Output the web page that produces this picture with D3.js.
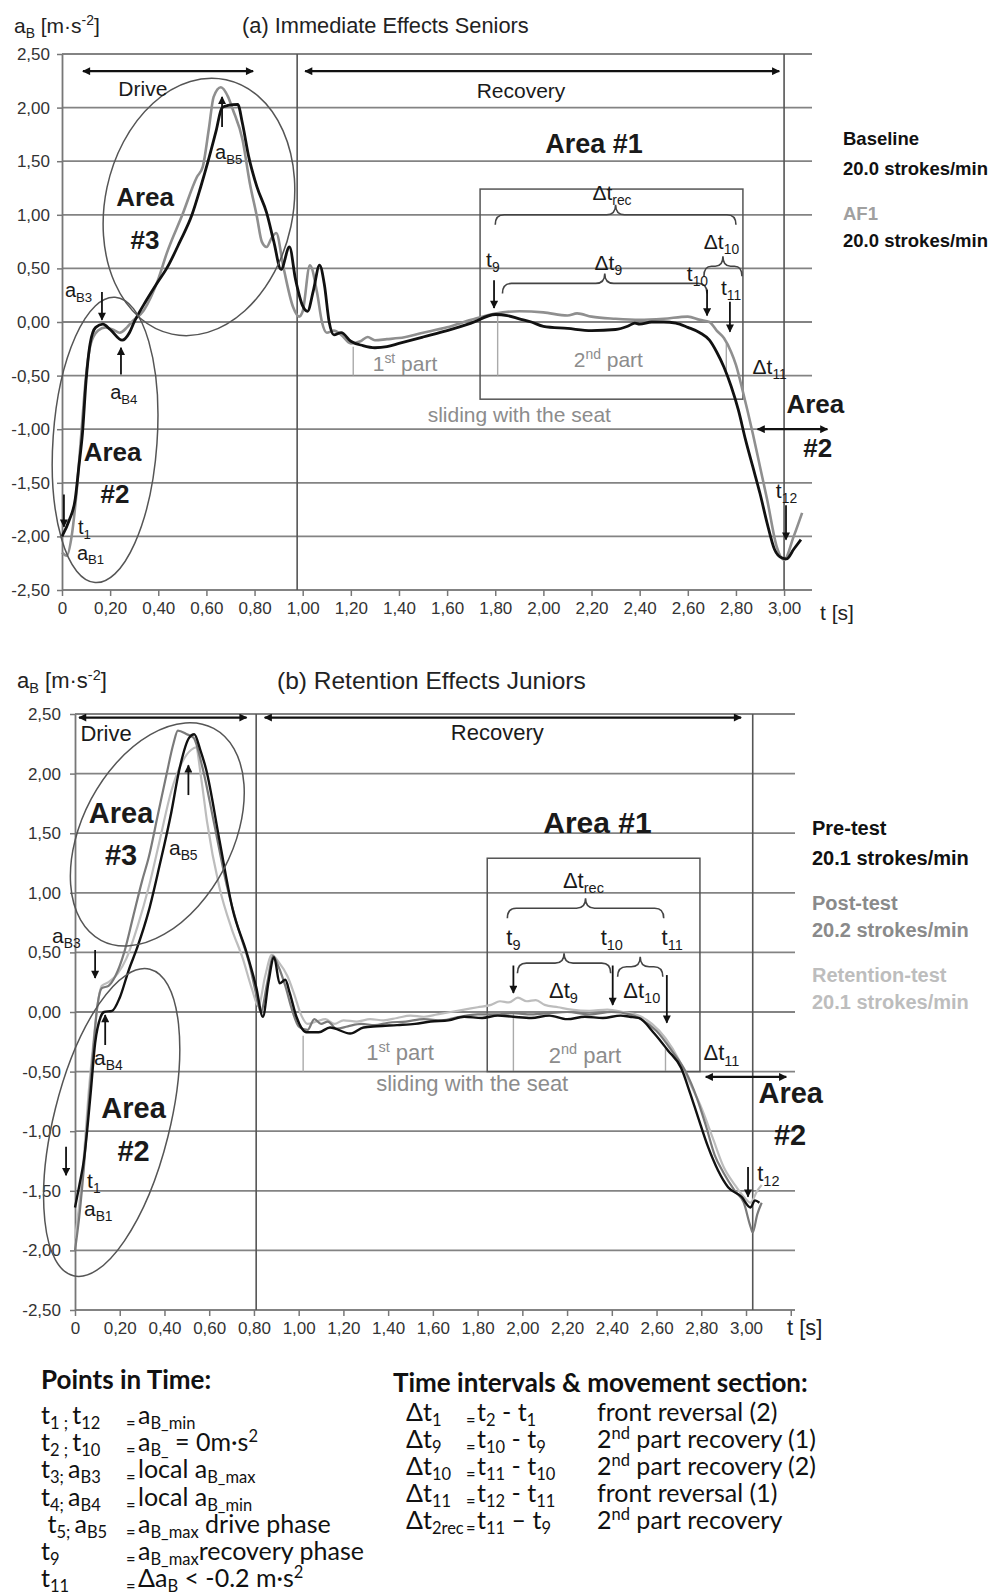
<!DOCTYPE html>
<html>
<head>
<meta charset="utf-8">
<script src="https://cdn.jsdelivr.net/npm/d3@7"></script>
<style>
  body { margin: 0; background: #fff; }
  svg { display: block; }
</style>
</head>
<body>
<script>
// ---- data ----
const xTicks = [0, 0.2, 0.4, 0.6, 0.8, 1.0, 1.2, 1.4, 1.6, 1.8, 2.0, 2.2, 2.4, 2.6, 2.8, 3.0];
const xTicksB = [0, 0.2, 0.4, 0.6, 0.8, 1.0, 1.2, 1.4, 1.6, 1.8, 2.0, 2.2, 2.4, 2.6, 2.8, 3.0, 3.2];
const yTicks = [2.5, 2.0, 1.5, 1.0, 0.5, 0, -0.5, -1.0, -1.5, -2.0, -2.5];

// (a) Immediate Effects Seniors  [t (s), aB (m/s2)]
const baselineA = [[0,-2.0],[0.03,-1.85],[0.055,-1.65],[0.07,-1.35],[0.085,-1.04],[0.1,-0.55],[0.117,-0.2],[0.14,-0.05],[0.17,-0.02],[0.2,-0.07],[0.25,-0.17],[0.28,-0.1],[0.3,0.0],[0.35,0.2],[0.4,0.38],[0.435,0.5],[0.49,0.75],[0.54,1.0],[0.575,1.25],[0.607,1.5],[0.64,1.78],[0.665,2.0],[0.69,2.02],[0.73,2.03],[0.75,1.85],[0.775,1.55],[0.81,1.26],[0.85,1.02],[0.88,0.75],[0.91,0.49],[0.945,0.7],[0.97,0.4],[1.0,0.15],[1.02,0.1],[1.045,0.3],[1.07,0.53],[1.09,0.35],[1.11,0.0],[1.13,-0.12],[1.16,-0.1],[1.2,-0.18],[1.25,-0.22],[1.3,-0.24],[1.35,-0.23],[1.4,-0.2],[1.5,-0.14],[1.6,-0.08],[1.7,-0.01],[1.8,0.07],[1.85,0.06],[1.9,0.03],[1.95,0.0],[2.0,-0.04],[2.1,-0.06],[2.2,-0.08],[2.3,-0.07],[2.35,-0.04],[2.38,-0.01],[2.4,-0.02],[2.45,0.0],[2.5,0.0],[2.55,-0.01],[2.6,-0.05],[2.65,-0.1],[2.69,-0.17],[2.72,-0.28],[2.75,-0.42],[2.78,-0.6],[2.81,-0.82],[2.84,-1.1],[2.87,-1.35],[2.9,-1.6],[2.93,-1.88],[2.96,-2.12],[2.99,-2.2],[3.01,-2.21],[3.04,-2.12],[3.07,-2.03]];
const af1A = [[0,-2.15],[0.02,-2.18],[0.04,-2.0],[0.06,-1.6],[0.08,-1.05],[0.1,-0.5],[0.12,-0.2],[0.15,-0.08],[0.18,-0.05],[0.21,-0.07],[0.24,-0.1],[0.27,-0.05],[0.29,0.0],[0.34,0.11],[0.4,0.4],[0.435,0.64],[0.5,1.0],[0.56,1.35],[0.585,1.45],[0.61,1.8],[0.63,2.1],[0.66,2.19],[0.69,2.1],[0.71,1.98],[0.75,1.7],[0.78,1.3],[0.81,0.98],[0.83,0.75],[0.85,0.7],[0.87,0.78],[0.89,0.83],[0.92,0.51],[0.96,0.14],[0.985,0.05],[1.0,0.1],[1.03,0.53],[1.06,0.27],[1.08,0.0],[1.1,-0.1],[1.13,-0.08],[1.16,-0.12],[1.2,-0.2],[1.24,-0.18],[1.27,-0.14],[1.3,-0.17],[1.35,-0.16],[1.4,-0.15],[1.5,-0.1],[1.6,-0.05],[1.7,0.02],[1.8,0.08],[1.9,0.1],[2.0,0.09],[2.1,0.06],[2.14,0.08],[2.2,0.05],[2.3,0.03],[2.4,0.02],[2.5,0.03],[2.6,0.05],[2.65,0.02],[2.69,0.0],[2.72,-0.08],[2.75,-0.15],[2.78,-0.28],[2.8,-0.4],[2.83,-0.66],[2.87,-1.04],[2.9,-1.35],[2.93,-1.66],[2.97,-2.1],[3.0,-2.22],[3.04,-2.0],[3.075,-1.78]];

// (b) Retention Effects Juniors
const preB = [[0,-1.64],[0.02,-1.45],[0.04,-1.24],[0.07,-0.68],[0.09,-0.26],[0.115,-0.04],[0.13,0.0],[0.166,0.01],[0.2,0.12],[0.24,0.35],[0.28,0.55],[0.33,0.85],[0.377,1.22],[0.43,1.67],[0.466,2.03],[0.51,2.3],[0.533,2.33],[0.56,2.2],[0.587,2.03],[0.645,1.45],[0.705,0.86],[0.767,0.5],[0.81,0.21],[0.84,-0.04],[0.865,0.25],[0.89,0.46],[0.915,0.24],[0.94,0.27],[0.96,0.16],[0.99,-0.04],[1.035,-0.17],[1.09,-0.17],[1.14,-0.13],[1.23,-0.18],[1.29,-0.13],[1.35,-0.12],[1.44,-0.11],[1.52,-0.1],[1.59,-0.08],[1.67,-0.07],[1.74,-0.04],[1.82,-0.05],[1.89,-0.03],[1.96,-0.04],[2.04,-0.05],[2.12,-0.03],[2.2,-0.06],[2.28,-0.04],[2.36,-0.05],[2.44,-0.03],[2.48,-0.04],[2.52,-0.05],[2.59,-0.18],[2.65,-0.32],[2.71,-0.47],[2.75,-0.68],[2.785,-0.88],[2.83,-1.13],[2.875,-1.33],[2.92,-1.47],[2.98,-1.55],[3.02,-1.64],[3.04,-1.58],[3.06,-1.6]];
const postB = [[0,-2.0],[0.02,-1.7],[0.04,-1.3],[0.06,-0.8],[0.08,-0.35],[0.1,0.05],[0.12,0.2],[0.15,0.22],[0.18,0.3],[0.22,0.5],[0.26,0.8],[0.3,1.1],[0.33,1.3],[0.37,1.65],[0.41,2.0],[0.44,2.25],[0.46,2.36],[0.5,2.33],[0.53,2.3],[0.57,2.05],[0.62,1.6],[0.68,1.05],[0.73,0.7],[0.78,0.4],[0.81,0.15],[0.83,0.0],[0.86,0.25],[0.885,0.47],[0.91,0.38],[0.94,0.22],[0.97,0.02],[1.0,-0.12],[1.04,-0.15],[1.07,-0.06],[1.1,-0.1],[1.13,-0.08],[1.17,-0.14],[1.22,-0.12],[1.28,-0.1],[1.34,-0.11],[1.4,-0.09],[1.48,-0.08],[1.56,-0.06],[1.64,-0.07],[1.72,-0.04],[1.8,-0.02],[1.88,-0.02],[1.96,-0.01],[2.04,-0.02],[2.12,-0.01],[2.2,0.0],[2.3,-0.02],[2.4,0.0],[2.48,-0.02],[2.53,-0.06],[2.6,-0.16],[2.67,-0.33],[2.73,-0.5],[2.78,-0.72],[2.82,-0.95],[2.86,-1.2],[2.9,-1.35],[2.95,-1.5],[2.99,-1.6],[3.02,-1.8],[3.03,-1.85],[3.05,-1.7],[3.07,-1.6]];
const retentionB = [[0,-1.9],[0.02,-1.6],[0.04,-1.2],[0.06,-0.7],[0.08,-0.3],[0.1,0.05],[0.12,0.22],[0.15,0.25],[0.19,0.32],[0.23,0.45],[0.28,0.72],[0.33,1.05],[0.38,1.45],[0.43,1.85],[0.48,2.1],[0.52,2.2],[0.54,2.22],[0.565,1.95],[0.59,1.6],[0.645,1.05],[0.7,0.7],[0.75,0.45],[0.79,0.2],[0.82,0.05],[0.85,0.3],[0.88,0.48],[0.91,0.42],[0.95,0.3],[0.98,0.15],[1.01,-0.02],[1.04,-0.1],[1.08,-0.08],[1.12,-0.06],[1.16,-0.1],[1.2,-0.07],[1.26,-0.08],[1.32,-0.06],[1.38,-0.07],[1.44,-0.05],[1.5,-0.03],[1.56,-0.04],[1.62,-0.02],[1.68,0.0],[1.74,0.02],[1.8,0.04],[1.86,0.06],[1.9,0.09],[1.94,0.08],[1.98,0.12],[2.02,0.09],[2.06,0.1],[2.1,0.06],[2.16,0.04],[2.22,0.02],[2.3,0.01],[2.38,0.02],[2.45,0.0],[2.52,-0.03],[2.58,-0.1],[2.64,-0.22],[2.7,-0.4],[2.75,-0.6],[2.8,-0.8],[2.85,-1.05],[2.9,-1.3],[2.95,-1.45],[2.99,-1.55],[3.02,-1.6],[3.05,-1.5],[3.07,-1.45]];

// legend / text content
const legendA = [["Baseline", "20.0 strokes/min"], ["AF1", "20.0 strokes/min"]];
const legendB = [["Pre-test", "20.1 strokes/min"], ["Post-test", "20.2 strokes/min"], ["Retention-test", "20.1 strokes/min"]];
const pointsRows = [
  ["t_{1 ; }t_{12}", "a_{B_min}"],
  ["t_{2 ; }t_{10}", "a_{B_} = 0m·s^{2}"],
  ["t_{3; }a_{B3}", "local a_{B_max}"],
  ["t_{4; }a_{B4}", "local a_{B_min}"],
  [" t_{5; }a_{B5}", "a_{B_max} drive phase"],
  ["t_{9}", "a_{B_max}recovery phase"],
  ["t_{11}", "Δa_{B} < -0.2 m·s^{2}"]
];
const intervalRows = [
  ["Δt_{1}", "t_{2} - t_{1}", "front reversal (2)"],
  ["Δt_{9}", "t_{10} - t_{9}", "2^{nd} part recovery (1)"],
  ["Δt_{10}", "t_{11} - t_{10}", "2^{nd} part recovery (2)"],
  ["Δt_{11}", "t_{12} - t_{11}", "front reversal (1)"],
  ["Δt_{2rec}", "t_{11} – t_{9}", "2^{nd} part recovery"]
];

// ---- setup ----
const W = 992, H = 1596;
const FONT = "'Liberation Sans', Arial, sans-serif";
const svg = d3.select("body").append("svg")
  .attr("width", W).attr("height", H)
  .attr("font-family", FONT);

svg.append("defs").append("marker")
  .attr("id", "ah").attr("viewBox", "0 0 10 10")
  .attr("refX", 9).attr("refY", 5)
  .attr("markerWidth", 9).attr("markerHeight", 8)
  .attr("markerUnits", "userSpaceOnUse")
  .attr("orient", "auto-start-reverse")
  .append("path").attr("d", "M0,0L10,5L0,10z").attr("fill", "#111");

const fmt = d3.formatLocale({decimal: ",", thousands: ".", grouping: [3], currency: ["", ""], minus: "-"}).format(".2f");

// text with _{sub} and ^{sup}; y = vertical center
function rich(parent, str, o) {
  const fs = o.size;
  const t = parent.append("text")
    .attr("x", o.x).attr("y", o.y + fs * 0.36)
    .attr("font-size", fs)
    .attr("text-anchor", o.anchor || "start")
    .attr("font-weight", o.bold ? "bold" : null)
    .attr("fill", o.color || "#111")
    .style("white-space", "pre");
  if (o.family) t.attr("font-family", o.family);
  const sub = o.sub || 0.24;
  const re = /([_^])\{([^}]*)\}|([^_^]+)/g;
  let m, prev = 0;
  while ((m = re.exec(str)) !== null) {
    let shift = 0, txt = m[3], small = false;
    if (m[1]) { txt = m[2]; small = true; shift = m[1] === "_" ? fs * sub : -fs * 0.38; }
    const ts = t.append("tspan").attr("dy", shift - prev).text(txt);
    if (small) ts.attr("font-size", fs * 0.66);
    prev = shift;
  }
  return t;
}

function brace(x1, x2, yb, h) {
  const xm = (x1 + x2) / 2, r = Math.min(9, (x2 - x1) / 5);
  return `M${x1},${yb + h / 2} Q${x1},${yb} ${x1 + r},${yb} L${xm - r},${yb} Q${xm},${yb} ${xm},${yb - h / 2}` +
         ` Q${xm},${yb} ${xm + r},${yb} L${x2 - r},${yb} Q${x2},${yb} ${x2},${yb + h / 2}`;
}

function drawPanel(p) {
  const g = svg.append("g");
  const x = d3.scaleLinear().domain([0, p.tEnd]).range([p.left, p.right]);
  const y = d3.scaleLinear().domain([-2.5, 2.5]).range([p.bottom, p.top]);

  // gridlines
  g.append("g").selectAll("line").data(yTicks).join("line")
    .attr("x1", x(0)).attr("x2", x(p.tEnd))
    .attr("y1", d => y(d)).attr("y2", d => y(d))
    .attr("stroke", "#838383").attr("stroke-width", 1.8);

  // axes
  const ya = g.append("g").attr("transform", `translate(${x(0)},0)`)
    .call(d3.axisLeft(y).tickValues(yTicks).tickSize(5).tickSizeOuter(0).tickPadding(p.yPad).tickFormat(fmt));
  const xa = g.append("g").attr("transform", `translate(0,${y(-2.5)})`)
    .call(d3.axisBottom(x).tickValues(p.xTicks).tickSize(6).tickSizeOuter(0).tickPadding(6)
      .tickFormat(d => d === 0 ? "0" : (d > 3.05 ? "" : fmt(d))));
  [ya, xa].forEach(a => {
    a.attr("font-family", FONT).attr("font-size", p.tickFs);
    a.select(".domain").attr("stroke", "#777").attr("stroke-width", 1.8);
    a.selectAll(".tick line").attr("stroke", "#777").attr("stroke-width", 1.5);
    a.selectAll(".tick text").attr("fill", "#333");
  });
  xa.select(".domain").remove();

  // drive / recovery boundaries
  g.append("g").selectAll("line").data(p.phaseLines).join("line")
    .attr("x1", d => x(d)).attr("x2", d => x(d))
    .attr("y1", y(2.5)).attr("y2", y(-2.5))
    .attr("stroke", "#555").attr("stroke-width", 1.6);

  // gray section markers
  g.append("g").selectAll("line").data(p.vlines).join("line")
    .attr("x1", d => x(d[0])).attr("x2", d => x(d[0]))
    .attr("y1", d => y(d[1])).attr("y2", d => y(d[2]))
    .attr("stroke", "#aaa").attr("stroke-width", 1.4);

  // Area #1 box
  g.append("rect")
    .attr("x", x(p.box[0])).attr("width", x(p.box[1]) - x(p.box[0]))
    .attr("y", y(p.box[2])).attr("height", y(p.box[3]) - y(p.box[2]))
    .attr("fill", "none").attr("stroke", "#555").attr("stroke-width", 1.5);

  // curves
  const line = d3.line().x(d => x(d[0])).y(d => y(d[1])).curve(d3.curveMonotoneX);
  g.append("g").selectAll("path").data(p.series).join("path")
    .attr("d", d => line(d.values))
    .attr("fill", "none")
    .attr("stroke", d => d.color)
    .attr("stroke-width", d => d.width)
    .attr("stroke-linejoin", "round");

  // ellipses
  g.append("g").selectAll("ellipse").data(p.ellipses).join("ellipse")
    .attr("transform", d => `translate(${x(d[0])},${y(d[1])}) rotate(${d[4]})`)
    .attr("rx", d => d[2]).attr("ry", d => d[3])
    .attr("fill", "none").attr("stroke", "#555").attr("stroke-width", 1.5);

  // braces
  g.append("g").selectAll("path").data(p.braces).join("path")
    .attr("d", d => brace(x(d[0]), x(d[1]), y(d[2]), p.braceH))
    .attr("fill", "none").attr("stroke", "#444").attr("stroke-width", 1.6);

  // vertical arrows
  g.append("g").selectAll("line").data(p.arrows).join("line")
    .attr("x1", d => x(d[0])).attr("x2", d => x(d[0]))
    .attr("y1", d => y(d[1])).attr("y2", d => y(d[2]))
    .attr("stroke", "#111").attr("stroke-width", 1.8)
    .attr("marker-end", "url(#ah)");

  // double arrows
  g.append("g").selectAll("line").data(p.spans).join("line")
    .attr("x1", d => x(d[0])).attr("x2", d => x(d[1]))
    .attr("y1", d => y(d[2])).attr("y2", d => y(d[2]))
    .attr("stroke", "#111").attr("stroke-width", 2.2)
    .attr("marker-start", "url(#ah)").attr("marker-end", "url(#ah)");

  // annotation texts
  p.labels.forEach(l => rich(g, l.s, {
    x: x(l.t), y: y(l.v), size: l.fs || p.labelFs,
    anchor: l.a || "middle", bold: l.b, color: l.c || "#1a1a1a"
  }));

  // titles
  rich(g, "a_{B} [m·s^{-2}]", {x: p.yTitle[0], y: p.yTitle[1], size: p.axTitleFs, color: "#222"});
  rich(g, p.title, {x: p.titlePos[0], y: p.titlePos[1], size: p.titleFs, color: "#222"});
  rich(g, "t [s]", {x: p.xTitle[0], y: p.xTitle[1], size: p.axTitleFs, color: "#222"});

  // legend
  p.legend.forEach((row, i) => {
    rich(g, row[0], {x: p.legX, y: p.legY[i * 2], size: p.legFs, bold: true, color: p.legColors[i][0]});
    rich(g, row[1], {x: p.legX, y: p.legY[i * 2 + 1], size: p.legFs, bold: true, color: p.legColors[i][1]});
  });
}

// ---- panel (a) ----
drawPanel({
  left: 62, right: 812, tEnd: 3.116, top: 54, bottom: 590,
  xTicks: xTicks, tickFs: 17, yPad: 7, labelFs: 21, titleFs: 21.8, axTitleFs: 21, braceH: 20,
  title: "(a) Immediate Effects Seniors", titlePos: [242, 25],
  yTitle: [14, 25], xTitle: [820, 612],
  series: [
    {values: af1A, color: "#8f8f8f", width: 2.6},
    {values: baselineA, color: "#111", width: 2.8}
  ],
  phaseLines: [0.977, 3.0],
  vlines: [[1.21, -0.23, -0.5], [1.81, 0.07, -0.5], [2.76, -0.2, -0.5]],
  box: [1.737, 2.829, 1.24, -0.72],
  ellipses: [[0.569, 1.073, 94, 130, 12], [0.179, -1.10, 52, 143, 4]],
  braces: [[1.80, 2.80, 1.0], [1.83, 2.68, 0.36], [2.667, 2.825, 0.52]],
  arrows: [[1.795, 0.39, 0.13], [2.68, 0.30, 0.06], [2.775, 0.19, -0.09], [3.008, -1.71, -2.03],
           [0.166, 0.28, 0.02], [0.245, -0.49, -0.24], [0.665, 1.82, 2.10], [0.008, -1.61, -1.91]],
  spans: [[0.087, 0.794, 2.34], [1.01, 2.98, 2.34], [2.89, 3.18, -1.0]],
  labels: [
    {s: "Drive", t: 0.336, v: 2.18},
    {s: "Recovery", t: 1.907, v: 2.16},
    {s: "Area #1", t: 2.21, v: 1.67, fs: 27, b: true},
    {s: "Δt_{rec}", t: 2.285, v: 1.21},
    {s: "t_{9}", t: 1.79, v: 0.58},
    {s: "Δt_{9}", t: 2.27, v: 0.56},
    {s: "t_{10}", t: 2.64, v: 0.45},
    {s: "Δt_{10}", t: 2.74, v: 0.75},
    {s: "t_{11}", t: 2.78, v: 0.32},
    {s: "Δt_{11}", t: 2.94, v: -0.41},
    {s: "1^{st} part", t: 1.425, v: -0.39, c: "#8c8c8c"},
    {s: "2^{nd} part", t: 2.27, v: -0.35, c: "#8c8c8c"},
    {s: "sliding with the seat", t: 1.90, v: -0.86, c: "#8c8c8c"},
    {s: "Area", t: 3.13, v: -0.765, fs: 26, b: true},
    {s: "#2", t: 3.14, v: -1.175, fs: 26, b: true},
    {s: "t_{12}", t: 3.01, v: -1.57},
    {s: "Area", t: 0.345, v: 1.17, fs: 26, b: true},
    {s: "#3", t: 0.345, v: 0.765, fs: 26, b: true},
    {s: "Area", t: 0.21, v: -1.21, fs: 26, b: true},
    {s: "#2", t: 0.22, v: -1.6, fs: 26, b: true},
    {s: "a_{B3}", t: 0.012, v: 0.30, a: "start", fs: 20},
    {s: "a_{B4}", t: 0.2, v: -0.65, a: "start", fs: 20},
    {s: "a_{B5}", t: 0.636, v: 1.59, a: "start", fs: 20},
    {s: "t_{1}", t: 0.066, v: -1.91, a: "start", fs: 20},
    {s: "a_{B1}", t: 0.062, v: -2.15, a: "start", fs: 20}
  ],
  legend: legendA, legX: 843, legY: [138, 168, 213, 240], legFs: 18.5,
  legColors: [["#111", "#111"], ["#a0a0a0", "#111"]]
});

// ---- panel (b) ----
drawPanel({
  left: 75, right: 795, tEnd: 3.219, top: 714, bottom: 1310,
  xTicks: xTicksB, tickFs: 17, yPad: 9, labelFs: 22, titleFs: 24.5, axTitleFs: 22, braceH: 20,
  title: "(b) Retention Effects Juniors", titlePos: [277, 680],
  yTitle: [17, 680], xTitle: [787, 1327],
  series: [
    {values: retentionB, color: "#bdbdbd", width: 2.2},
    {values: postB, color: "#7a7a7a", width: 2.2},
    {values: preB, color: "#111", width: 2.4}
  ],
  phaseLines: [0.81, 3.03],
  vlines: [[1.02, -0.2, -0.5], [1.96, 0.0, -0.5], [2.64, -0.3, -0.5]],
  box: [1.843, 2.794, 1.29, -0.5],
  ellipses: [[0.368, 1.49, 75, 120, 28], [0.164, -0.927, 58, 158, 14]],
  braces: [[1.933, 2.632, 0.87], [1.978, 2.395, 0.41], [2.426, 2.628, 0.38]],
  arrows: [[1.96, 0.39, 0.16], [2.404, 0.39, 0.06], [2.646, 0.31, -0.09], [3.009, -1.3, -1.55],
           [0.09, 0.52, 0.285], [0.135, -0.277, -0.025], [0.507, 1.82, 2.07], [-0.04, -1.13, -1.37]],
  spans: [[0.018, 0.767, 2.47], [0.848, 2.978, 2.47], [2.82, 3.18, -0.545]],
  labels: [
    {s: "Drive", t: 0.139, v: 2.34},
    {s: "Recovery", t: 1.888, v: 2.35},
    {s: "Area #1", t: 2.336, v: 1.59, fs: 30, b: true},
    {s: "Δt_{rec}", t: 2.273, v: 1.11},
    {s: "t_{9}", t: 1.96, v: 0.63},
    {s: "t_{10}", t: 2.40, v: 0.63},
    {s: "t_{11}", t: 2.67, v: 0.63},
    {s: "Δt_{9}", t: 2.184, v: 0.185},
    {s: "Δt_{10}", t: 2.534, v: 0.185},
    {s: "1^{st} part", t: 1.453, v: -0.34, c: "#8c8c8c"},
    {s: "2^{nd} part", t: 2.28, v: -0.36, c: "#8c8c8c"},
    {s: "sliding with the seat", t: 1.776, v: -0.6, c: "#8c8c8c"},
    {s: "Δt_{11}", t: 2.89, v: -0.34},
    {s: "Area", t: 3.2, v: -0.68, fs: 29, b: true},
    {s: "#2", t: 3.197, v: -1.03, fs: 29, b: true},
    {s: "t_{12}", t: 3.1, v: -1.35},
    {s: "Area", t: 0.206, v: 1.67, fs: 29, b: true},
    {s: "#3", t: 0.206, v: 1.32, fs: 29, b: true},
    {s: "Area", t: 0.262, v: -0.805, fs: 29, b: true},
    {s: "#2", t: 0.262, v: -1.16, fs: 29, b: true},
    {s: "a_{B3}", t: -0.103, v: 0.646, a: "start", fs: 21},
    {s: "a_{B4}", t: 0.085, v: -0.378, a: "start", fs: 21},
    {s: "a_{B5}", t: 0.42, v: 1.384, a: "start", fs: 21},
    {s: "t_{1}", t: 0.054, v: -1.41, a: "start", fs: 21},
    {s: "a_{B1}", t: 0.04, v: -1.644, a: "start", fs: 21}
  ],
  legend: legendB, legX: 812, legY: [828, 858, 903, 930, 975, 1002], legFs: 20,
  legColors: [["#111", "#111"], ["#8a8a8a", "#8a8a8a"], ["#bdbdbd", "#bdbdbd"]]
});

// ---- definitions below the charts ----
const BODY = "Lato, 'Open Sans', sans-serif";
const notes = svg.append("g");
rich(notes, "Points in Time:", {x: 41, y: 1380, size: 26, bold: true, family: BODY});
pointsRows.forEach((r, i) => {
  const yc = 1415 + i * 27.2;
  rich(notes, r[0], {x: 41, y: yc, size: 25, family: BODY, sub: 0.2});
  rich(notes, "_{=}", {x: 126, y: yc, size: 25, family: BODY, sub: 0.2});
  rich(notes, r[1], {x: 138, y: yc, size: 25, family: BODY, sub: 0.2});
});
rich(notes, "Time intervals & movement section:", {x: 393, y: 1383, size: 26, bold: true, family: BODY});
intervalRows.forEach((r, i) => {
  const yc = 1412 + i * 27;
  rich(notes, r[0], {x: 406, y: yc, size: 25, family: BODY, sub: 0.2});
  rich(notes, "_{=}", {x: 466, y: yc, size: 25, family: BODY, sub: 0.2});
  rich(notes, r[1], {x: 477, y: yc, size: 25, family: BODY, sub: 0.2});
  rich(notes, r[2], {x: 597, y: yc, size: 25, family: BODY, sub: 0.2});
});
</script>
</body>
</html>
